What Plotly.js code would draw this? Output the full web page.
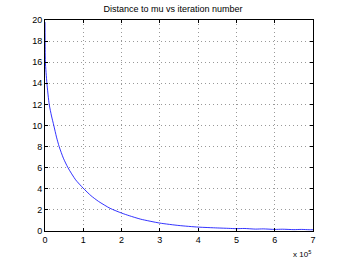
<!DOCTYPE html>
<html>
<head>
<meta charset="utf-8">
<script src="https://cdn.plot.ly/plotly-3.0.1.min.js"></script>
<style>html,body{margin:0;padding:0;background:#fff}#chart{width:346px;height:260px}</style>
</head>
<body>
<div id="chart"></div>
<script>
// iteration number (units of 1e5)
var iterations = [0, 0.005, 0.01, 0.05, 0.11, 0.17, 0.23, 0.3, 0.37, 0.48, 0.6, 0.8, 1.0, 1.2, 1.4, 1.7, 2.0, 2.2, 2.5, 3.0, 3.5, 4.0, 4.5, 4.8, 5.0, 5.2, 5.5, 5.7, 6.0, 6.2, 6.5, 6.7, 6.9, 7.0];
// distance to mu
var distance = [19.8, 17.2, 16.0, 14.0, 12.0, 10.9, 10.0, 8.9, 8.0, 6.9, 6.0, 4.85, 4.05, 3.35, 2.8, 2.15, 1.7, 1.45, 1.12, 0.75, 0.52, 0.37, 0.29, 0.25, 0.22, 0.24, 0.18, 0.2, 0.15, 0.17, 0.13, 0.15, 0.12, 0.12];
var xTicks = [0, 1, 2, 3, 4, 5, 6, 7];
var yTicks = [0, 2, 4, 6, 8, 10, 12, 14, 16, 18, 20];

var font = {family: 'Liberation Sans, Arial, sans-serif', size: 9, color: '#000'};
Plotly.newPlot('chart', [{
  x: iterations, y: distance, type: 'scatter', mode: 'lines',
  line: {color: '#0000ff', width: 0.8, shape: 'spline', smoothing: 0.6}
}], {
  width: 346, height: 260,
  margin: {l: 45, r: 33, t: 20, b: 29},
  paper_bgcolor: '#fff', plot_bgcolor: '#fff',
  font: font,
  showlegend: false,
  title: {text: 'Distance to mu vs iteration number', font: {family: font.family, size: 9, color: '#000'}, x: 0.5, xanchor: 'center', y: 0.965, yanchor: 'middle'},
  xaxis: {range: [0, 7], tickvals: xTicks, ticktext: xTicks.map(String), showline: true, mirror: 'ticks', linecolor: '#000', linewidth: 1,
    ticks: 'inside', ticklen: 3, tickcolor: '#000', showgrid: true, gridcolor: '#999', griddash: '1px,3px', gridwidth: 1, zeroline: false, tickfont: font},
  yaxis: {range: [0, 20], tickvals: yTicks, ticktext: yTicks.map(String), showline: true, mirror: 'ticks', linecolor: '#000', linewidth: 1,
    ticks: 'inside', ticklen: 3, tickcolor: '#000', showgrid: true, gridcolor: '#999', griddash: '1px,3px', gridwidth: 1, zeroline: false, tickfont: font},
  annotations: [{text: 'x 10<sup>5</sup>', xref: 'paper', yref: 'paper', x: 1.0, y: -0.075, xanchor: 'right', yanchor: 'top', showarrow: false, font: {family: font.family, size: 8, color: '#000'}}]
}, {staticPlot: true, displayModeBar: false});
</script>
</body>
</html>
